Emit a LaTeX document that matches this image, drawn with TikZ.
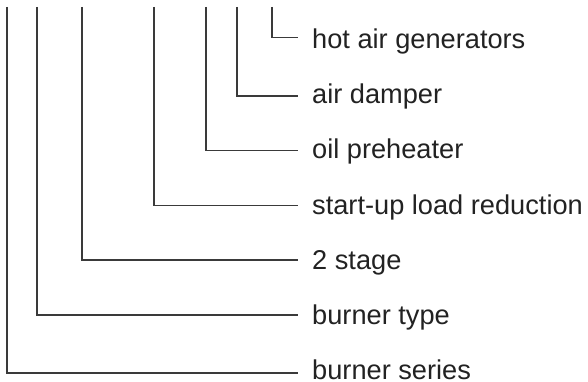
\documentclass[tikz,border=0pt]{standalone}
\usepackage{fontspec}
\setmainfont{Liberation Sans}
\definecolor{lbl}{HTML}{222222}
\definecolor{ln}{HTML}{3A3A3A}
\begin{document}
\begin{tikzpicture}[x=1pt,y=-1pt,
  lab/.style={anchor=base west,inner sep=0pt,text=lbl,font=\fontsize{27.2}{30}\selectfont},
  conn/.style={draw=ln,line width=1.1pt}]
\useasboundingbox (0,0) rectangle (588,382);
% labels
\node[lab] (l1) at (312,49) {hot air generators};
\node[lab] (l2) at (312,104) {air damper};
\node[lab] (l3) at (312,159) {oil preheater};
\node[lab] (l4) at (312,214) {start-up load reduction};
\node[lab] (l5) at (312,269) {2 stage};
\node[lab] (l6) at (312,324) {burner type};
\node[lab,text depth=0pt] (l7) at (312,379) {burner series};
% top ends
\coordinate (t1) at (272,7);
\coordinate (t2) at (237,7);
\coordinate (t3) at (206,7);
\coordinate (t4) at (154,7);
\coordinate (t5) at (82,7);
\coordinate (t6) at (37,7);
\coordinate (t7) at (7,7);
% right ends
\coordinate (e1) at (298,37.5);
\coordinate (e2) at (298,96);
\coordinate (e3) at (298,150.7);
\coordinate (e4) at (298,205.5);
\coordinate (e5) at (298,260);
\coordinate (e6) at (298,315);
\coordinate (e7) at (298,373);
\foreach \i in {1,...,7} {\draw[conn] (t\i) |- (e\i);}
\end{tikzpicture}
\end{document}
